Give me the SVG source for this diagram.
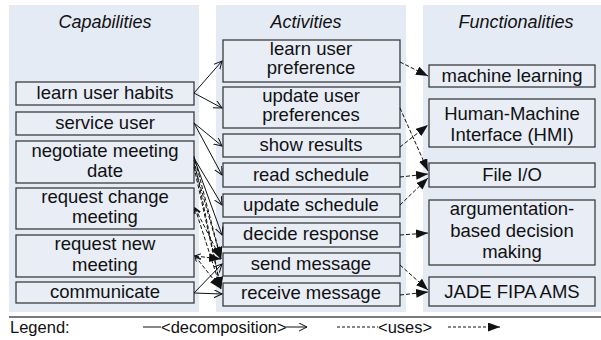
<svg xmlns="http://www.w3.org/2000/svg" width="601" height="340" viewBox="0 0 601 340">
<defs>
<style>
.panel{fill:#e5ebf5;stroke:none}
.box{fill:#e8edf6;stroke:#3c3c3c;stroke-width:1.3}
.t{font-family:"Liberation Sans",Arial,sans-serif;font-size:18.5px;fill:#111;text-anchor:middle}
.title{font-family:"Liberation Sans",Arial,sans-serif;font-size:18px;font-style:italic;fill:#111;text-anchor:middle}
.lg{font-family:"Liberation Sans",Arial,sans-serif;font-size:16.5px;fill:#111}
.dec{stroke:#111;stroke-width:1;fill:none;marker-end:url(#open)}
.use{stroke:#111;stroke-width:1;stroke-dasharray:4 2;fill:none;marker-end:url(#filled)}
.use2{stroke:#111;stroke-width:1;stroke-dasharray:4 2;fill:none;marker-end:url(#filled);marker-start:url(#small)}
</style>
<marker id="open" markerUnits="userSpaceOnUse" markerWidth="10" markerHeight="10" refX="8" refY="4" orient="auto">
<path d="M0,0 L8,4 L0,8" fill="none" stroke="#111" stroke-width="1"/>
</marker>
<marker id="filled" markerUnits="userSpaceOnUse" markerWidth="14" markerHeight="10" refX="12" refY="4.5" orient="auto">
<path d="M0,0 L12,4.5 L0,9 z" fill="#111"/>
</marker>
<marker id="small" markerUnits="userSpaceOnUse" markerWidth="8" markerHeight="8" refX="6" refY="3" orient="auto-start-reverse">
<path d="M0,0 L6,3 L0,6" fill="none" stroke="#111" stroke-width="1"/>
</marker>
</defs>
<rect width="601" height="340" fill="#fff"/>
<rect class="panel" x="9" y="5" width="190" height="307"/>
<rect class="panel" x="216" y="5" width="190" height="307"/>
<rect class="panel" x="423" y="5" width="178" height="307"/>
<text class="title" x="105" y="28">Capabilities</text>
<text class="title" x="306" y="28">Activities</text>
<text class="title" x="516" y="28">Functionalities</text>

<g id="cap-learn"><rect class="box" x="16" y="82" width="178" height="23"/><text class="t" x="105" y="99">learn user habits</text></g>
<g id="cap-service"><rect class="box" x="16" y="112" width="178" height="23"/><text class="t" x="105" y="129">service user</text></g>
<g id="cap-negotiate"><rect class="box" x="16" y="141" width="178" height="42"/><text class="t" x="105" y="157">negotiate meeting</text><text class="t" x="105" y="177">date</text></g>
<g id="cap-change"><rect class="box" x="16" y="188" width="178" height="41"/><text class="t" x="105" y="203">request change</text><text class="t" x="105" y="223">meeting</text></g>
<g id="cap-new"><rect class="box" x="16" y="235" width="178" height="42"/><text class="t" x="105" y="250">request new</text><text class="t" x="105" y="271">meeting</text></g>
<g id="cap-communicate"><rect class="box" x="16" y="282" width="178" height="21"/><text class="t" x="105" y="298">communicate</text></g>

<g id="act-learnpref"><rect class="box" x="223" y="40" width="177" height="42"/><text class="t" x="311" y="55">learn user</text><text class="t" x="311" y="74">preference</text></g>
<g id="act-updatepref"><rect class="box" x="223" y="87" width="177" height="41"/><text class="t" x="311" y="102">update user</text><text class="t" x="311" y="121">preferences</text></g>
<g id="act-show"><rect class="box" x="223" y="134" width="177" height="23"/><text class="t" x="311" y="151">show results</text></g>
<g id="act-read"><rect class="box" x="223" y="163" width="177" height="24"/><text class="t" x="311" y="181">read schedule</text></g>
<g id="act-updatesched"><rect class="box" x="223" y="194" width="177" height="23"/><text class="t" x="311" y="211">update schedule</text></g>
<g id="act-decide"><rect class="box" x="223" y="223" width="177" height="24"/><text class="t" x="311" y="240">decide response</text></g>
<g id="act-send"><rect class="box" x="223" y="253" width="177" height="23"/><text class="t" x="311" y="270">send message</text></g>
<g id="act-receive"><rect class="box" x="223" y="283" width="177" height="23"/><text class="t" x="311" y="299">receive message</text></g>

<g id="fn-ml"><rect class="box" x="429" y="65" width="166" height="22"/><text class="t" x="512" y="82">machine learning</text></g>
<g id="fn-hmi"><rect class="box" x="429" y="99" width="166" height="48"/><text class="t" x="512" y="120">Human-Machine</text><text class="t" x="512" y="141">Interface (HMI)</text></g>
<g id="fn-file"><rect class="box" x="429" y="163" width="166" height="24"/><text class="t" x="512" y="181">File I/O</text></g>
<g id="fn-arg"><rect class="box" x="429" y="200" width="166" height="65"/><text class="t" x="512" y="215">argumentation-</text><text class="t" x="512" y="237">based decision</text><text class="t" x="512" y="258">making</text></g>
<g id="fn-jade"><rect class="box" x="429" y="277" width="166" height="29"/><text class="t" x="512" y="298">JADE FIPA AMS</text></g>

<g id="connectors">
<line class="dec" x1="194" y1="93" x2="222" y2="61"/>
<line class="dec" x1="194" y1="93" x2="222" y2="108"/>
<line class="dec" x1="194" y1="123" x2="222" y2="146"/>
<line class="dec" x1="194" y1="123" x2="222" y2="175"/>
<line class="dec" x1="194" y1="158" x2="222" y2="205"/>
<line class="dec" x1="194" y1="158" x2="222" y2="235"/>
<line class="dec" x1="194" y1="293" x2="222" y2="264"/>
<line class="dec" x1="194" y1="293" x2="222" y2="294"/>
<line class="use" x1="194" y1="156" x2="221" y2="259"/>
<line class="use" x1="194" y1="160" x2="221" y2="289"/>
<line class="use" x1="194" y1="164" x2="221" y2="259"/>
<line class="use" x1="194" y1="167" x2="221" y2="289"/>
<line class="use2" x1="195" y1="208" x2="221" y2="259"/>
<line class="use2" x1="195" y1="208" x2="221" y2="289"/>
<line class="use2" x1="195" y1="256" x2="221" y2="259"/>
<line class="use2" x1="195" y1="256" x2="221" y2="289"/>
<line class="use" x1="400" y1="62" x2="428" y2="76"/>
<line class="use" x1="400" y1="108" x2="428" y2="171"/>
<line class="use" x1="400" y1="147" x2="428" y2="125"/>
<line class="use" x1="400" y1="177" x2="428" y2="174"/>
<line class="use" x1="400" y1="205" x2="428" y2="178"/>
<line class="use" x1="400" y1="235" x2="428" y2="233"/>
<line class="use" x1="400" y1="265" x2="428" y2="290"/>
<line class="use" x1="400" y1="295" x2="428" y2="292"/>
</g>

<g id="legend">
<line x1="9" y1="317" x2="601" y2="317" stroke="#7a7a7a" stroke-width="2"/>
<text class="lg" x="10" y="333">Legend:</text>
<line x1="143" y1="327" x2="161" y2="327" stroke="#111" stroke-width="1"/>
<text class="lg" x="161" y="333">&lt;decomposition&gt;</text>
<line x1="286" y1="327" x2="307" y2="327" stroke="#111" stroke-width="1" marker-end="url(#open)"/>
<line x1="337" y1="327" x2="378" y2="327" stroke="#111" stroke-width="1" stroke-dasharray="3 2"/>
<text class="lg" x="378" y="333">&lt;uses&gt;</text>
<line x1="448" y1="327" x2="500" y2="327" stroke="#111" stroke-width="1" stroke-dasharray="3 2" marker-end="url(#filled)"/>
</g>
</svg>
